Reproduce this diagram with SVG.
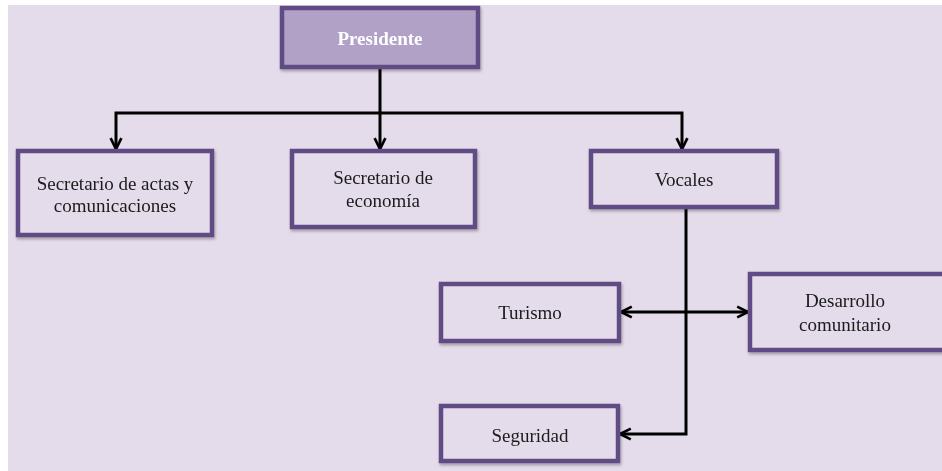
<svg xmlns="http://www.w3.org/2000/svg" width="942" height="471" viewBox="0 0 942 471">
<defs>
<style>
.box{fill:#E4DCEA;stroke:#604C84;stroke-width:4.5}
.top{fill:#B2A1C7;stroke:#604C84;stroke-width:4.5}
.t{font-family:"Liberation Serif",serif;font-size:19px;fill:#1a1a1a;text-anchor:middle}
.tb{font-family:"Liberation Serif",serif;font-size:19px;font-weight:bold;fill:#fff;text-anchor:middle}
.c{fill:none;stroke:#000;stroke-width:3}
</style>
<marker id="ah" viewBox="0 0 10 10" refX="9" refY="5" markerWidth="4.5" markerHeight="4.5" orient="auto-start-reverse" markerUnits="strokeWidth">
<path d="M1,1 L9,5 L1,9" fill="none" stroke="#000" stroke-width="2"/>
</marker>
<filter id="sh" x="-10%" y="-10%" width="120%" height="130%">
<feDropShadow dx="1" dy="2" stdDeviation="1.5" flood-color="#000" flood-opacity="0.3"/>
</filter>
</defs>
<rect x="0" y="0" width="942" height="471" fill="#fff"/>
<rect x="8" y="5" width="934" height="466" fill="#E4DCEA"/>
<g id="connectors">
<path class="c" d="M380,68 V149" marker-end="url(#ah)"/>
<path class="c" d="M116,149 V113 H682 V149" marker-start="url(#ah)" marker-end="url(#ah)"/>
<path class="c" d="M621,312 H748" marker-start="url(#ah)" marker-end="url(#ah)"/>
<path class="c" d="M686,208 V434 H620" marker-end="url(#ah)"/>
</g>
<g id="presidente" filter="url(#sh)">
<rect class="top" x="282" y="8" width="196" height="59"/>
<text class="tb" x="380" y="45">Presidente</text>
</g>
<g id="secretario-actas" filter="url(#sh)">
<rect class="box" x="18" y="151" width="194" height="84"/>
<text class="t" x="115" y="190">Secretario de actas y</text>
<text class="t" x="115" y="212">comunicaciones</text>
</g>
<g id="secretario-economia" filter="url(#sh)">
<rect class="box" x="292" y="151" width="183" height="76"/>
<text class="t" x="383" y="184">Secretario de</text>
<text class="t" x="383" y="207">economía</text>
</g>
<g id="vocales" filter="url(#sh)">
<rect class="box" x="591" y="151" width="186" height="56"/>
<text class="t" x="684" y="186">Vocales</text>
</g>
<g id="turismo" filter="url(#sh)">
<rect class="box" x="441" y="284" width="178" height="57"/>
<text class="t" x="530" y="319">Turismo</text>
</g>
<g id="desarrollo" filter="url(#sh)">
<rect class="box" x="750" y="274" width="200" height="76"/>
<text class="t" x="845" y="307">Desarrollo</text>
<text class="t" x="845" y="331">comunitario</text>
</g>
<g id="seguridad" filter="url(#sh)">
<rect class="box" x="441" y="406" width="177" height="55"/>
<text class="t" x="530" y="442">Seguridad</text>
</g>
</svg>
